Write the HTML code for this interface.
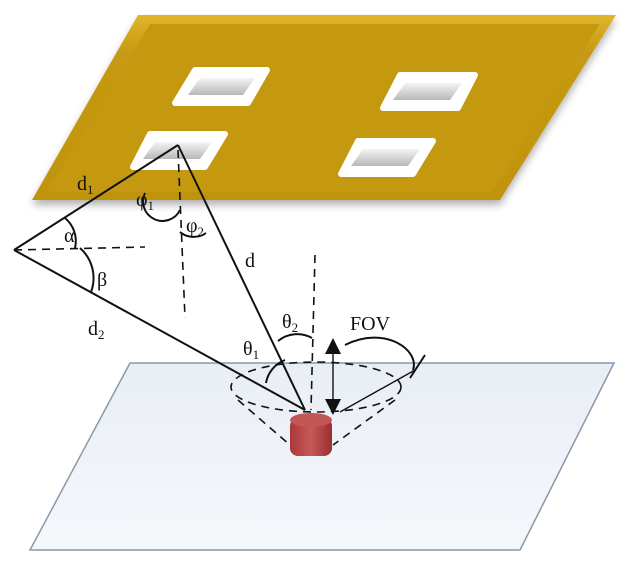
<!DOCTYPE html>
<html><head><meta charset="utf-8"><style>
body{margin:0;background:#fff}
text{font-family:"Liberation Serif","DejaVu Serif",serif;font-size:20px;fill:#111}
.sub{font-size:13px}
</style></head><body>
<svg width="628" height="563" viewBox="0 0 628 563">
<defs>
<linearGradient id="g1" x1="0" y1="0" x2="0" y2="1"><stop offset="0" stop-color="#e0b52a"/><stop offset=".2" stop-color="#c69a12"/><stop offset="1" stop-color="#c0930c"/></linearGradient>
<linearGradient id="g2" x1="0" y1="0" x2="0" y2="1"><stop offset="0" stop-color="#e9eef5"/><stop offset="1" stop-color="#f5f8fb"/></linearGradient>
<linearGradient id="gl" x1="0" y1="0" x2="0" y2="1"><stop offset="0" stop-color="#f4f4f4"/><stop offset="1" stop-color="#b8b8b8"/></linearGradient>
<linearGradient id="rc" x1="0" y1="0" x2="1" y2="0"><stop offset="0" stop-color="#a8383a"/><stop offset=".5" stop-color="#c65a5a"/><stop offset="1" stop-color="#9a2e30"/></linearGradient>
<filter id="sh" x="-10%" y="-10%" width="120%" height="130%"><feDropShadow dx="0" dy="5" stdDeviation="4" flood-color="#000" flood-opacity=".3"/></filter>
</defs>
<g>
<polygon points="138,15 616,15 500,200 32,200" fill="url(#g1)" filter="url(#sh)"/>
<polygon points="150,24 600,24 492,192 46,192" fill="#c4980f"/>
</g>
<g stroke="#fff" stroke-width="6" stroke-linejoin="round" fill="#fff">
<polygon points="195,70 267,70 248,103 175,103"/>
<polygon points="400,75 475,75 458,108 383,108"/>
<polygon points="150,134 225,134 205,167 133,167"/>
<polygon points="358,141 433,141 413,174 341,174"/>
</g>
<g fill="url(#gl)">
<polygon points="200,78 255,78 243,95 188,95"/>
<polygon points="405,83 462,83 450,100 393,100"/>
<polygon points="155,142 212,142 200,159 143,159"/>
<polygon points="363,149 420,149 408,166 351,166"/>
</g>
<g>
<polygon points="130,363 614,363 520,550 30,550" fill="url(#g2)" stroke="#8798ad" stroke-width="1.5"/>
</g>
<g fill="none" stroke="#111" stroke-width="2">
<line x1="14" y1="250" x2="178" y2="145"/>
<line x1="14" y1="250" x2="305" y2="410"/>
<line x1="178" y1="145" x2="305" y2="410"/>
<g stroke-dasharray="8,6" stroke-width="1.6">
<line x1="14" y1="250" x2="145" y2="247"/>
<line x1="178" y1="150" x2="185" y2="318"/>
<line x1="315" y1="255" x2="311" y2="410"/>
<ellipse cx="316" cy="387" rx="85" ry="25"/>
<line x1="238" y1="400" x2="290" y2="445"/>
<line x1="395" y1="400" x2="333" y2="445"/>
</g>
<path d="M145,193 A18,18 0 0 0 180,210" stroke-width="2"/>
<path d="M180,232 A18,14 0 0 0 206,233" stroke-width="2"/>
<path d="M65,218 A30,30 0 0 1 75,248" stroke-width="2"/>
<path d="M80,248 A40,40 0 0 1 91,292" stroke-width="2"/>
<path d="M266,383 A30,30 0 0 1 285,360" stroke-width="2"/>
<path d="M278,341 A30,30 0 0 1 312,338" stroke-width="2"/>
<path d="M345,345 C385,325 420,350 413,370" stroke-width="2"/>
<line x1="340" y1="412" x2="415" y2="370" stroke-width="1.4"/>
<line x1="410" y1="378" x2="425" y2="355" stroke-width="2"/>
<line x1="333" y1="348" x2="333" y2="408" stroke-width="1.4"/>
</g>
<polygon points="333,338 325,354 341,354" fill="#111"/>
<polygon points="333,415 325,399 341,399" fill="#111"/>
<g>
<rect x="290" y="418" width="42" height="38" rx="8" fill="url(#rc)"/>
<ellipse cx="311" cy="420" rx="21" ry="7" fill="#c25656"/>
</g>
<g>
<text x="77" y="190">d<tspan class="sub" dy="4">1</tspan></text>
<text x="136" y="206">φ<tspan class="sub" dy="4">1</tspan></text>
<text x="186" y="232">φ<tspan class="sub" dy="4">2</tspan></text>
<text x="64" y="242">α</text>
<text x="97" y="286">β</text>
<text x="245" y="267">d</text>
<text x="88" y="335">d<tspan class="sub" dy="4">2</tspan></text>
<text x="243" y="355">θ<tspan class="sub" dy="4">1</tspan></text>
<text x="282" y="328">θ<tspan class="sub" dy="4">2</tspan></text>
<text x="350" y="330">FOV</text>
</g>
</svg>
</body></html>
